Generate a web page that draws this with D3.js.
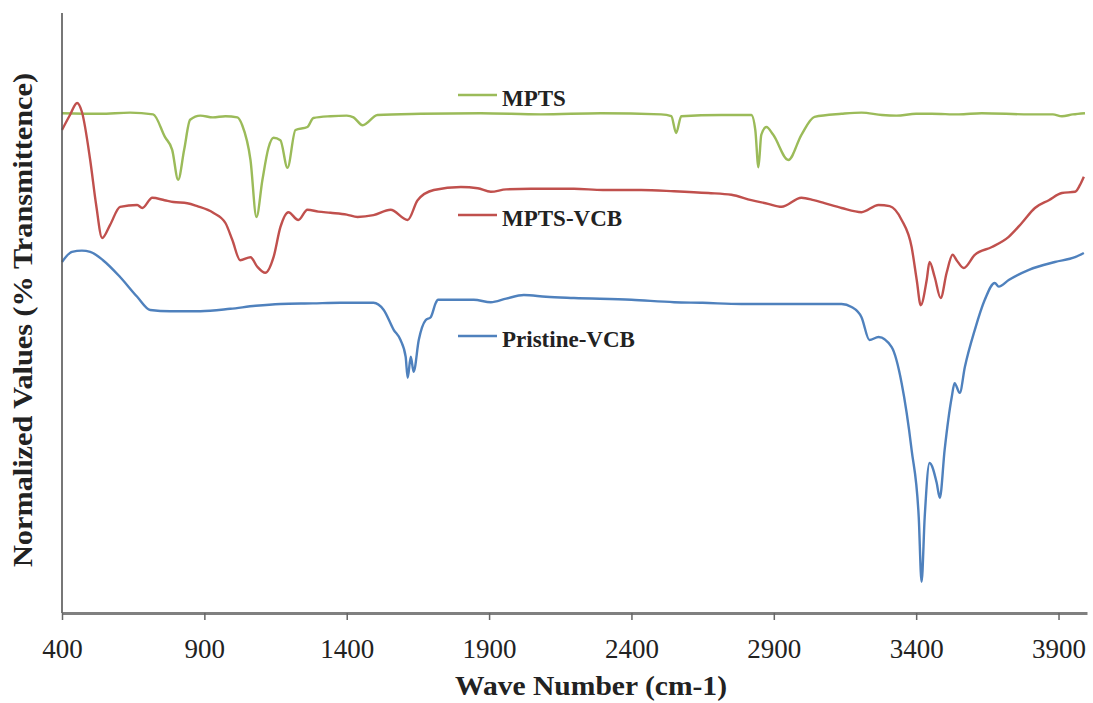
<!DOCTYPE html>
<html>
<head>
<meta charset="utf-8">
<script src="https://cdn.jsdelivr.net/npm/d3@7"></script>
<style>
  html, body { margin: 0; padding: 0; background: #fff; }
  svg { display: block; }
</style>
</head>
<body>
<svg id="chart" width="1093" height="703"></svg>
<script>
// FTIR spectra: wave number (cm-1) vs normalized % transmittance (offset traces)
const xTicks = [400, 900, 1400, 1900, 2400, 2900, 3400, 3900];

const mpts = [
  [400,83.3],[534,83.2],[639,83.4],[720,83.1],[762,79.3],[787,77.2],[808,72.2],[829,77.2],
  [850,82.2],[886,82.9],[930,82.6],[974,82.8],[1016,82.6],[1033,81.3],[1062,75.5],[1083,66],
  [1104,72.2],[1125,77.5],[1143,79.2],[1167,78.8],[1192,74.2],[1220,80.5],[1262,81],[1283,82.5],
  [1343,82.8],[1400,82.9],[1424,82.6],[1456,81.3],[1508,83],[1660,83.2],[1871,83.3],[2082,83.1],
  [2293,83.3],[2504,83.1],[2540,82.8],[2557,80],[2575,82.8],[2715,83],[2821,83],[2835,80.5],
  [2846,74.3],[2856,79.7],[2874,81],[2898,79.7],[2951,75.5],[2997,79.7],[3043,82.7],[3138,83.2],
  [3208,83.4],[3280,83],[3331,82.9],[3400,83.2],[3454,83.2],[3550,83.1],[3630,83.3],[3800,83.1],
  [3880,83.1],[3912,82.8],[3950,83.1],[3993,83.3]
];

const mptsVcb = [
  [400,80.5],[428,83],[453,85],[470,83.5],[499,75.5],[520,68],[541,62.5],[569,64.7],[604,67.7],
  [664,68],[682,67.5],[717,69.2],[760,68.8],[791,68.5],[840,68.3],[875,67.8],[931,66.7],[974,65],
  [998,62.2],[1026,58.8],[1062,59.3],[1086,57.7],[1114,56.7],[1143,59.3],[1167,64.3],[1195,66.8],
  [1230,65.5],[1262,67.2],[1300,66.9],[1343,66.7],[1400,66.4],[1438,66],[1494,66.3],[1554,67.2],
  [1614,65.5],[1649,68.8],[1706,70.5],[1801,71],[1860,70.8],[1906,70.2],[1960,70.6],[2047,70.7],
  [2198,70.7],[2300,70.5],[2434,70.5],[2550,70.3],[2670,70],[2751,69.7],[2821,68.8],[2880,68.2],
  [2927,67.7],[2997,69.2],[3040,68.8],[3078,68.3],[3138,67.5],[3208,66.8],[3268,68],[3307,67.8],
  [3349,65.5],[3384,61],[3402,55.5],[3416,51.3],[3437,55.5],[3447,58.5],[3465,56],[3486,52.5],
  [3507,56.7],[3528,59.7],[3542,58.8],[3567,57.5],[3606,59.7],[3666,61],[3725,62.7],[3771,65],
  [3817,67.5],[3866,68.8],[3912,70],[3958,70.2],[3975,71.3],[3989,72.7]
];

const pristineVcb = [
  [400,58.5],[435,60.2],[470,60.4],[499,60.2],[544,58.8],[604,56],[664,52.7],[710,50.5],
  [780,50.3],[886,50.3],[991,50.7],[1080,51.2],[1167,51.5],[1280,51.6],[1378,51.7],[1494,51.7],
  [1530,50.5],[1565,47.2],[1589,45.5],[1607,42.7],[1614,39.2],[1625,42.7],[1635,40.2],[1653,45.5],
  [1677,48.8],[1695,49.3],[1713,51.7],[1720,52.2],[1846,52.2],[1906,51.8],[1960,52.4],[2022,53],
  [2100,52.7],[2198,52.5],[2400,52.2],[2550,51.8],[2650,51.7],[2786,51.5],[2950,51.5],[3138,51.5],
  [3173,51],[3208,49.3],[3236,45.5],[3268,46],[3314,44.3],[3349,38.3],[3384,27.2],[3409,16],
  [3419,5.2],[3430,16],[3447,25],[3472,21.7],[3483,19.2],[3500,27.2],[3525,36],[3535,38.3],
  [3553,36.7],[3571,41],[3606,47.2],[3641,52.2],[3676,55],[3690,54.4],[3725,55.5],[3796,57.2],
  [3887,58.5],[3958,59.3],[3989,60]
];

const seriesNames = ["MPTS", "MPTS-VCB", "Pristine-VCB"];
const seriesColors = ["#9bbb59", "#c0504d", "#4f81bd"];
const seriesData = [mpts, mptsVcb, pristineVcb];

const svg = d3.select("#chart");
const margin = { left: 62, right: 1087, top: 13, bottom: 613 };

const x = d3.scaleLinear().domain([400, 4000]).range([margin.left, margin.right]);
const y = d3.scaleLinear().domain([0, 100]).range([margin.bottom, margin.top]);

const serif = "'Liberation Serif', 'DejaVu Serif', serif";

// spectra
const line = d3.line()
  .x(d => x(d[0]))
  .y(d => y(d[1]))
  .curve(d3.curveMonotoneX);

seriesData.forEach((data, i) => {
  svg.append("path")
    .datum(data)
    .attr("fill", "none")
    .attr("stroke", seriesColors[i])
    .attr("stroke-width", 2.4)
    .attr("stroke-linejoin", "round")
    .attr("d", line);
});

// x axis
const xAxis = d3.axisBottom(x)
  .tickValues(xTicks)
  .tickSize(7)
  .tickSizeOuter(0)
  .tickFormat(d3.format("d"));

const gx = svg.append("g")
  .attr("transform", `translate(0,${margin.bottom})`)
  .call(xAxis);
gx.select(".domain").attr("stroke", "#808080").attr("stroke-width", 3);
gx.selectAll(".tick line").attr("stroke", "#666").attr("stroke-width", 1.5);
gx.selectAll(".tick text")
  .attr("y", 45)
  .attr("dy", null)
  .attr("fill", "#222")
  .style("font-family", serif)
  .style("font-size", "27px");

// y axis (no ticks)
svg.append("line")
  .attr("x1", margin.left).attr("x2", margin.left)
  .attr("y1", margin.top).attr("y2", margin.bottom)
  .attr("stroke", "#555").attr("stroke-width", 1.6);

// axis titles
svg.append("text")
  .attr("x", 591).attr("y", 695)
  .attr("text-anchor", "middle")
  .attr("textLength", 272)
  .attr("lengthAdjust", "spacingAndGlyphs")
  .attr("fill", "#222")
  .style("font-family", serif)
  .style("font-weight", "bold")
  .style("font-size", "27px")
  .text("Wave Number (cm-1)");

svg.append("text")
  .attr("transform", "translate(32,320) rotate(-90)")
  .attr("text-anchor", "middle")
  .attr("textLength", 494)
  .attr("lengthAdjust", "spacingAndGlyphs")
  .attr("fill", "#222")
  .style("font-family", serif)
  .style("font-weight", "bold")
  .style("font-size", "27px")
  .text("Normalized Values (% Transmittence)");

// legend entries placed next to each trace
const legendY = [95, 215, 336];
const legend = svg.append("g");
seriesNames.forEach((name, i) => {
  legend.append("line")
    .attr("x1", 458).attr("x2", 497)
    .attr("y1", legendY[i]).attr("y2", legendY[i])
    .attr("stroke", seriesColors[i]).attr("stroke-width", 2.4);
  legend.append("text")
    .attr("x", 502).attr("y", legendY[i] + 11)
    .attr("fill", "#222")
    .style("font-family", serif)
    .style("font-weight", "bold")
    .style("font-size", "23px")
    .text(name);
});
</script>
</body>
</html>
